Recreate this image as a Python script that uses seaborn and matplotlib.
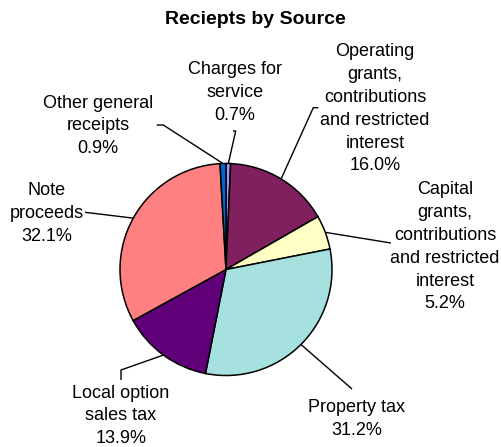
import numpy as np
import matplotlib
matplotlib.use("Agg")
import matplotlib.pyplot as plt
import seaborn as sns

# ---- data ----
categories = ["Charges for service",
              "Operating grants, contributions and restricted interest",
              "Capital grants, contributions and restricted interest",
              "Property tax",
              "Local option sales tax",
              "Note proceeds",
              "Other general receipts"]
shares = [0.7, 16.0, 5.2, 31.2, 13.9, 32.1, 0.9]
label_lines = [["Charges for", "service"],
               ["Operating", "grants,", "contributions", "and restricted", "interest"],
               ["Capital", "grants,", "contributions", "and restricted", "interest"],
               ["Property tax"],
               ["Local option", "sales tax"],
               ["Note", "proceeds"],
               ["Other general", "receipts"]]
colors = ["#9999FF", "#80205F", "#FFFFC6", "#A6E1E0", "#600078", "#FF8080", "#0066CC"]

sns.set_theme(style="white")
plt.rcParams["font.family"] = ["Liberation Sans", "DejaVu Sans"]

W, H = 502, 447
fig = plt.figure(figsize=(W / 100, H / 100), dpi=100)
ax = fig.add_axes([0, 0, 1, 1])

def P(x, y):
    """pixel (top-left origin) -> axes data coords"""
    return x, H - y

cx, cy, R = 226, 269.5, 106
wedges, _ = ax.pie(shares, colors=colors, startangle=90, counterclock=False,
                   center=P(cx, cy), radius=R,
                   wedgeprops=dict(edgecolor="black", linewidth=1.1))
ax.set_xlim(0, W)
ax.set_ylim(0, H)
ax.set_aspect("equal")
ax.axis("off")

# layout: label center x, first-line y, leader path (after wedge start) in pixels
layout = [
    (235, 70, [(235.7, 131), (233, 131)]),
    (375, 52, [(313.3, 107.7), (318.3, 107.7)]),
    (445, 190, [(391, 243)]),
    (357, 408, [(352, 389)]),
    (121, 393, [(121, 370), (121, 380)]),
    (47, 190.5, [(85, 212.3)]),
    (98, 103, [(163.3, 125), (156.7, 125)]),
]
step = 22.8
fs = 13

for w, share, lines, (lx, ly, path) in zip(wedges, shares, label_lines, layout):
    mid = np.deg2rad((w.theta1 + w.theta2) / 2)
    sx = w.center[0] + w.r * np.cos(mid)
    sy = w.center[1] + w.r * np.sin(mid)
    xs = [sx] + [P(*p)[0] for p in path]
    ys = [sy] + [P(*p)[1] for p in path]
    ax.plot(xs, ys, color="black", linewidth=1.0, solid_capstyle="butt")
    all_lines = lines + [f"{share:.1f}%"]
    for i, t in enumerate(all_lines):
        ax.text(*P(lx, ly + i * step), t, ha="center", va="center",
                fontsize=fs, color="black")

ax.text(*P(255, 19), "Reciepts by Source", ha="center", va="center",
        fontsize=14, fontweight="bold", color="black")

fig.savefig("out.png", dpi=100, facecolor="white")
